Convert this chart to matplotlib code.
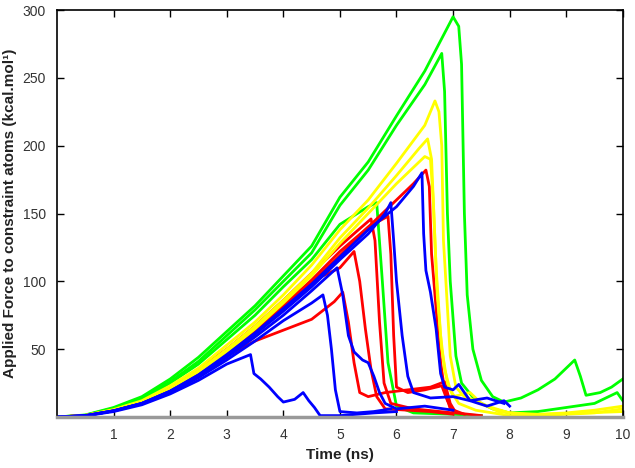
import matplotlib
matplotlib.use("Agg")
import matplotlib.pyplot as plt

plt.rcParams['font.family'] = ['Liberation Sans', 'DejaVu Sans']

# force traces: (time ns, force kcal/mol)
green_1_t = [0, 0.5, 1, 1.5, 2, 2.5, 3, 3.5, 4, 4.5, 5, 5.5, 6, 6.5, 7.0, 7.1, 7.15, 7.2, 7.25, 7.35, 7.5, 7.7, 7.9, 8.2, 8.5, 8.8, 9.0, 9.15, 9.25, 9.35, 9.6, 9.8, 10]
green_1_f = [0, 1.5, 7, 15, 28, 44, 63, 82, 104, 126, 162, 188, 222, 255, 295, 288, 260, 150, 90, 50, 27, 15, 11, 14, 20, 28, 36, 42, 30, 16, 18, 22, 28]
green_2_t = [0, 0.5, 1, 1.5, 2, 2.5, 3, 3.5, 4, 4.5, 5, 5.5, 6, 6.5, 6.8, 6.85, 6.9, 6.95, 7.05, 7.15, 7.4, 7.7, 8.0, 8.5, 9.0, 9.5, 9.9, 10]
green_2_f = [0, 1.3, 6.5, 14, 26, 41, 60, 79, 100, 121, 156, 182, 215, 245, 268, 240, 150, 100, 45, 25, 12, 6, 3, 4, 7, 10, 18, 12]
green_3_t = [0, 0.5, 1, 1.5, 2, 2.5, 3, 3.5, 4, 4.5, 5, 5.5, 5.65, 5.75, 5.85, 6.0, 6.3, 7.0, 7.5]
green_3_f = [0, 1.2, 6, 13, 25, 39, 57, 75, 96, 116, 142, 155, 158, 100, 40, 8, 3, 2, 1]

yellow_1_t = [0, 0.5, 1, 1.5, 2, 2.5, 3, 3.5, 4, 4.5, 5, 5.5, 6, 6.5, 6.68, 6.75, 6.8, 6.83, 6.88, 6.95, 7.05, 7.2, 7.4, 7.6, 8.0, 8.5, 9.0, 9.5, 10]
yellow_1_f = [0, 1.2, 5.5, 12, 23, 36, 53, 70, 90, 112, 138, 160, 187, 215, 233, 225, 200, 130, 95, 45, 22, 15, 12, 8, 3, 2, 3, 5, 8]
yellow_2_t = [0, 0.5, 1, 1.5, 2, 2.5, 3, 3.5, 4, 4.5, 5, 5.5, 6, 6.4, 6.55, 6.62, 6.66, 6.72, 6.8, 6.9, 7.0, 7.3, 7.5, 7.8, 8.5, 9.5, 10]
yellow_2_f = [0, 1.1, 5, 11, 21, 34, 50, 67, 86, 106, 132, 154, 178, 198, 205, 190, 150, 90, 50, 25, 15, 18, 10, 4, 1, 3, 6]
yellow_3_t = [0, 0.5, 1, 1.5, 2, 2.5, 3, 3.5, 4, 4.5, 5, 5.5, 6, 6.5, 6.6, 6.65, 6.7, 6.78, 6.85, 6.95, 7.1, 7.4, 8.0, 10]
yellow_3_f = [0, 1.0, 5, 11, 20, 33, 48, 65, 84, 104, 128, 150, 172, 192, 190, 160, 110, 60, 35, 20, 10, 5, 1, 4]

red_1_t = [0, 0.5, 1, 1.5, 2, 2.5, 3, 3.5, 4, 4.5, 4.9, 5.05, 5.15, 5.25, 5.35, 5.5, 5.8, 6.2, 6.6, 6.85, 6.95, 7.05, 7.5]
red_1_f = [0, 1.0, 5, 11, 20, 32, 45, 56, 64, 72, 85, 92, 70, 40, 18, 15, 18, 20, 22, 26, 10, 3, 1]
red_2_t = [0, 0.5, 1, 1.5, 2, 2.5, 3, 3.5, 4, 4.5, 5.0, 5.25, 5.35, 5.45, 5.55, 5.65, 5.8, 6.2, 6.6, 7.0]
red_2_f = [0, 1.0, 5, 11, 21, 34, 49, 65, 83, 100, 110, 122, 100, 65, 35, 15, 6, 5, 4, 2]
red_3_t = [0, 0.5, 1, 1.5, 2, 2.5, 3, 3.5, 4, 4.5, 5.0, 5.3, 5.55, 5.62, 5.7, 5.78, 5.9, 6.3, 7.0]
red_3_f = [0, 1.0, 5, 11, 21, 35, 50, 67, 86, 106, 126, 137, 146, 130, 70, 25, 10, 6, 3]
red_4_t = [0, 0.5, 1, 1.5, 2, 2.5, 3, 3.5, 4, 4.5, 5, 5.5, 5.85, 5.9, 5.95, 6.0, 6.2, 6.5, 6.8, 6.9, 7.0]
red_4_f = [0, 1.0, 5, 11, 20, 33, 48, 64, 82, 101, 122, 140, 148, 120, 60, 22, 18, 20, 23, 12, 4]
red_5_t = [0, 0.5, 1, 1.5, 2, 2.5, 3, 3.5, 4, 4.5, 5, 5.5, 6.0, 6.3, 6.52, 6.58, 6.62, 6.7, 6.78, 6.85, 6.95, 7.2]
red_5_f = [0, 1.0, 5, 11, 20, 32, 46, 62, 80, 99, 119, 140, 160, 172, 182, 170, 120, 80, 40, 20, 6, 2]

blue_1_t = [0, 0.5, 1, 1.5, 2, 2.5, 3, 3.3, 3.42, 3.48, 3.6, 3.75, 3.9, 4.0, 4.2, 4.35, 4.45, 4.55, 4.65, 5.0, 5.3, 5.6, 6.0]
blue_1_f = [0, 0.8, 4, 9, 17, 27, 39, 44, 46, 32, 28, 22, 15, 11, 13, 18, 12, 7, 1, 1, 2, 3, 4]
blue_2_t = [0, 0.5, 1, 1.5, 2, 2.5, 3, 3.5, 4, 4.5, 4.7, 4.78, 4.85, 4.92, 5.0, 5.3, 5.6, 5.9]
blue_2_f = [0, 0.9, 4.5, 10, 18, 29, 42, 56, 71, 84, 90, 75, 50, 20, 4, 3, 4, 6]
blue_3_t = [0, 0.5, 1, 1.5, 2, 2.5, 3, 3.5, 4, 4.5, 4.95, 5.05, 5.15, 5.25, 5.4, 5.5, 5.6, 5.7, 5.8, 6.0, 6.5, 7.0]
blue_3_f = [0, 1.0, 4.5, 10, 19, 30, 44, 59, 75, 93, 110, 90, 60, 48, 42, 40, 30, 18, 10, 6, 8, 5]
blue_4_t = [0, 0.5, 1, 1.5, 2, 2.5, 3, 3.5, 4, 4.5, 5, 5.5, 5.8, 5.9, 5.95, 6.0, 6.1, 6.2, 6.3, 6.6, 7.0, 7.3, 7.6, 7.9]
blue_4_f = [0, 1.0, 4.5, 10, 19, 31, 45, 61, 78, 96, 116, 135, 150, 158, 130, 100, 60, 30, 18, 14, 15, 12, 14, 10]
blue_5_t = [0, 0.5, 1, 1.5, 2, 2.5, 3, 3.5, 4, 4.5, 5, 5.5, 6, 6.3, 6.45, 6.48, 6.52, 6.6, 6.7, 6.78, 6.85, 7.0, 7.1, 7.3, 7.6, 7.9, 8.0]
blue_5_f = [0, 1.0, 4.6, 10, 19, 31, 46, 62, 80, 98, 118, 138, 155, 170, 180, 135, 108, 92, 65, 32, 22, 20, 24, 12, 8, 12, 8]

# drawing order: green, red, yellow, blue
traces = [
    (green_1_t, green_1_f, '#00ff00'), (green_2_t, green_2_f, '#00ff00'), (green_3_t, green_3_f, '#00ff00'),
    (red_1_t, red_1_f, '#ff0000'), (red_2_t, red_2_f, '#ff0000'), (red_3_t, red_3_f, '#ff0000'),
    (red_4_t, red_4_f, '#ff0000'), (red_5_t, red_5_f, '#ff0000'),
    (yellow_1_t, yellow_1_f, '#ffff00'), (yellow_2_t, yellow_2_f, '#ffff00'), (yellow_3_t, yellow_3_f, '#ffff00'),
    (blue_1_t, blue_1_f, '#0000ff'), (blue_2_t, blue_2_f, '#0000ff'), (blue_3_t, blue_3_f, '#0000ff'),
    (blue_4_t, blue_4_f, '#0000ff'), (blue_5_t, blue_5_f, '#0000ff'),
]

fig = plt.figure(figsize=(6.35, 4.68), dpi=100)
ax = fig.add_axes([0.0898, 0.109, 0.891, 0.8696])

for t, f, c in traces:
    ax.plot(t, f, color=c, lw=2.0)

ax.set_xlim(0, 10)
ax.set_ylim(0, 300)
ax.set_xticks(range(1, 11))
ax.set_yticks(range(50, 301, 50))
ax.tick_params(direction='in', length=5, width=1, top=True, right=True,
               labelsize=10, labelcolor='#333333', pad=8)
for s in ['left', 'top', 'right']:
    ax.spines[s].set_color('black')
    ax.spines[s].set_linewidth(1.2)
ax.spines['bottom'].set_color('#999999')
ax.spines['bottom'].set_linewidth(2.5)

ax.set_xlabel('Time (ns)', fontsize=11, fontweight='bold', color='#222222', labelpad=4)
ax.set_ylabel('Applied Force to constraint atoms (kcal.mol¹)', fontsize=11,
              fontweight='bold', color='#222222', labelpad=4)

fig.savefig('out.png', dpi=100)
